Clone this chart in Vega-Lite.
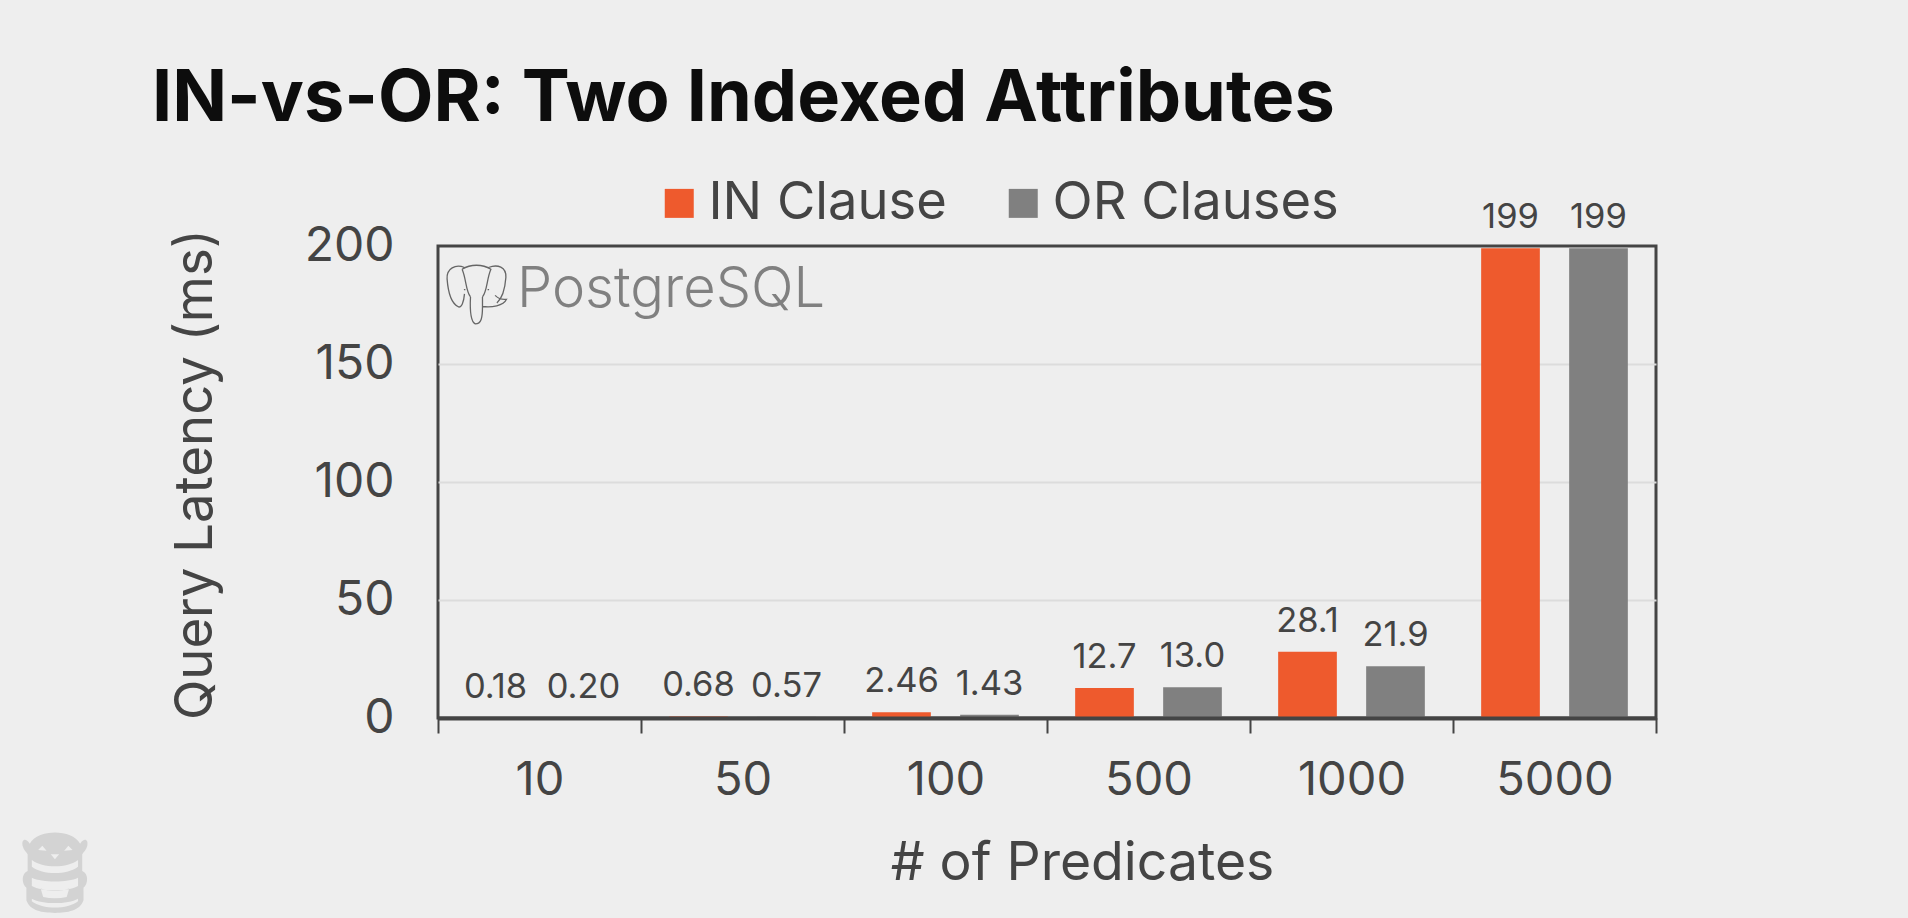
{
  "$schema": "https://vega.github.io/schema/vega-lite/v6.json",
  "width": 1218,
  "height": 472,
  "autosize": "none",
  "padding": {"left": 438, "top": 246, "right": 252, "bottom": 200},
  "background": "#eeeeee",
  "title": {
    "text": "IN-vs-OR: Two Indexed Attributes",
    "anchor": "start",
    "frame": "group",
    "font": "Inter",
    "fontSize": 72,
    "fontWeight": 700,
    "color": "#0d0d0d",
    "dx": -286,
    "offset": 41
  },
  "config": {
    "font": "Inter",
    "view": {"stroke": "#444444", "strokeWidth": 3}
  },
  "data": {
    "values": [
      {"predicates": "10", "method": "IN Clause", "latency": 0.18, "label": "0.18"},
      {"predicates": "10", "method": "OR Clauses", "latency": 0.2, "label": "0.20"},
      {"predicates": "50", "method": "IN Clause", "latency": 0.68, "label": "0.68"},
      {"predicates": "50", "method": "OR Clauses", "latency": 0.57, "label": "0.57"},
      {"predicates": "100", "method": "IN Clause", "latency": 2.46, "label": "2.46"},
      {"predicates": "100", "method": "OR Clauses", "latency": 1.43, "label": "1.43"},
      {"predicates": "500", "method": "IN Clause", "latency": 12.7, "label": "12.7"},
      {"predicates": "500", "method": "OR Clauses", "latency": 13.0, "label": "13.0"},
      {"predicates": "1000", "method": "IN Clause", "latency": 28.1, "label": "28.1"},
      {"predicates": "1000", "method": "OR Clauses", "latency": 21.9, "label": "21.9"},
      {"predicates": "5000", "method": "IN Clause", "latency": 199, "label": "199"},
      {"predicates": "5000", "method": "OR Clauses", "latency": 199, "label": "199"}
    ]
  },
  "resolve": {"scale": {"x": "independent"}},
  "layer": [
    {
      "mark": {"type": "bar", "stroke": null},
      "encoding": {
        "x": {
          "field": "predicates",
          "type": "nominal",
          "sort": null,
          "scale": {"paddingInner": 0, "paddingOuter": 0},
          "axis": {
            "title": "# of Predicates",
            "titleFontSize": 53.5,
            "titleFontWeight": 400,
            "titleColor": "#444444",
            "titleX": 644,
            "titleY": 161,
            "titleBaseline": "alphabetic",
            "labelFontSize": 47,
            "labelFontWeight": 400,
            "labelColor": "#444444",
            "labelAngle": 0,
            "labelPadding": 24,
            "tickBand": "extent",
            "tickSize": 15,
            "tickColor": "#444444",
            "tickWidth": 2,
            "domainColor": "#444444",
            "domainWidth": 4,
            "zindex": 1
          }
        },
        "xOffset": {
          "field": "method",
          "type": "nominal",
          "sort": null,
          "scale": {"paddingInner": 0.333, "paddingOuter": 0.32}
        },
        "y": {
          "field": "latency",
          "type": "quantitative",
          "scale": {"domain": [0, 200]},
          "axis": {
            "title": "Query Latency (ms)",
            "titleFontSize": 52.7,
            "titleFontWeight": 400,
            "titleColor": "#444444",
            "titleX": -216,
            "titleY": 228,
            "values": [0, 50, 100, 150, 200],
            "labelFontSize": 48,
            "labelFontWeight": 400,
            "labelColor": "#444444",
            "labelPadding": 44,
            "ticks": false,
            "domain": false,
            "gridColor": {"condition": {"test": "datum.value === 0 || datum.value === 200", "value": "transparent"}, "value": "#dcdcdc"},
            "gridWidth": 2
          }
        },
        "color": {
          "field": "method",
          "type": "nominal",
          "sort": null,
          "scale": {"domain": ["IN Clause", "OR Clauses"], "range": ["#ee5a2d", "#808080"]},
          "legend": {
            "title": null,
            "orient": "none",
            "direction": "horizontal",
            "legendX": 215,
            "legendY": -69,
            "symbolType": "square",
            "symbolSize": 841,
            "symbolStrokeWidth": 0,
            "symbolOpacity": 1,
            "labelFontSize": 52.5,
            "labelFontWeight": 400,
            "labelColor": "#444444",
            "labelOffset": 3,
            "labelLimit": 400,
            "columnPadding": 50
          }
        }
      }
    },
    {
      "mark": {"type": "text", "baseline": "alphabetic", "dy": -20, "fontSize": 34.5, "fontWeight": 400, "color": "#444444"},
      "encoding": {
        "x": {"field": "predicates", "type": "nominal", "sort": null, "scale": {"paddingInner": 0, "paddingOuter": 0}, "axis": null},
        "xOffset": {"field": "method", "type": "nominal", "sort": null, "scale": {"paddingInner": 0.333, "paddingOuter": 0.32}},
        "y": {"field": "latency", "type": "quantitative"},
        "text": {"field": "label"}
      }
    },
    {
      "data": {"values": [{"logo": "PostgreSQL"}]},
      "mark": {"type": "text", "align": "left", "baseline": "alphabetic", "fontSize": 56, "fontWeight": 300, "color": "#808080"},
      "encoding": {
        "x": {"datum": 0.0649, "type": "quantitative", "scale": {"domain": [0, 1]}, "axis": null},
        "y": {"datum": 174, "type": "quantitative"},
        "text": {"field": "logo"}
      }
    },
    {
      "data": {"values": [{"logo": "elephant"}]},
      "mark": {
        "type": "point",
        "filled": false,
        "size": 3600,
        "opacity": 1,
        "stroke": "#666666",
        "strokeWidth": 1.3,
        "shape": "M-0.4,-0.88 C-0.7,-1 -1,-0.85 -0.98,-0.5 C-0.95,-0.1 -0.85,0.3 -0.62,0.42 C-0.5,0.5 -0.42,0.25 -0.4,0 M0.4,-0.88 C0.7,-1 1,-0.9 0.98,-0.55 C0.95,-0.15 0.85,0.15 0.68,0.3 M-0.48,-0.82 C-0.2,-1 0.2,-1 0.48,-0.82 C0.34,-0.5 0.36,-0.1 0.2,0.1 M-0.48,-0.82 C-0.34,-0.5 -0.36,-0.1 -0.2,0.1 M-0.2,0.1 C-0.22,0.5 -0.2,0.92 -0.04,1 C0.16,1 0.2,0.8 0.2,0.42 L0.2,0.1 M0.2,0.42 C0.5,0.46 0.9,0.4 1,0.18 C0.8,0.2 0.72,0.15 0.62,0.05 M-0.42,-0.14 L-0.37,-0.14 M0.37,-0.14 L0.42,-0.14"
      },
      "encoding": {
        "x": {"datum": 0.0316, "type": "quantitative", "scale": {"domain": [0, 1]}, "axis": null},
        "y": {"datum": 179.7, "type": "quantitative"}
      }
    },
    {
      "data": {"values": [{"logo": "otter"}]},
      "mark": {
        "type": "point",
        "filled": true,
        "size": 7056,
        "opacity": 1,
        "fill": "#d3d3d3",
        "shape": "M-0.6,-0.65 C-0.4,-1 0.4,-1 0.6,-0.65 C0.7,-0.8 0.8,-0.75 0.77,-0.6 C0.75,-0.5 0.68,-0.45 0.65,-0.4 L0.65,0 C0.8,0.05 0.8,0.3 0.68,0.4 L0.68,0.7 C0.6,0.95 0.3,1 0,1 C-0.3,1 -0.6,0.95 -0.68,0.7 L-0.68,0.4 C-0.8,0.3 -0.8,0.05 -0.65,0 L-0.65,-0.4 C-0.68,-0.45 -0.75,-0.5 -0.77,-0.6 C-0.8,-0.75 -0.7,-0.8 -0.6,-0.65 Z M-0.55,-0.1 C-0.3,0.1 0.3,0.1 0.55,-0.1 L0.55,-0.26 C0.3,-0.06 -0.3,-0.06 -0.55,-0.26 Z M-0.55,0.36 C-0.3,0.5 0.3,0.5 0.55,0.36 L0.55,0.16 C0.3,0.28 -0.3,0.28 -0.55,0.16 Z M-0.28,0.62 C-0.1,0.66 0.1,0.66 0.28,0.62 L0.34,0.42 C0.1,0.5 -0.1,0.5 -0.34,0.42 Z M-0.55,0.72 C-0.3,0.92 0.3,0.92 0.55,0.72 L0.55,0.66 C0.3,0.8 -0.3,0.8 -0.55,0.66 Z M-0.4,-0.5 L-0.2,-0.48 L-0.3,-0.6 Z M0.22,-0.48 L0.42,-0.5 L0.32,-0.6 Z M-0.1,-0.4 L0,-0.28 L0.1,-0.4 Z"
      },
      "encoding": {
        "x": {"datum": -0.3145, "type": "quantitative", "scale": {"domain": [0, 1]}, "axis": null},
        "y": {"datum": -64.8, "type": "quantitative"}
      }
    }
  ]
}
